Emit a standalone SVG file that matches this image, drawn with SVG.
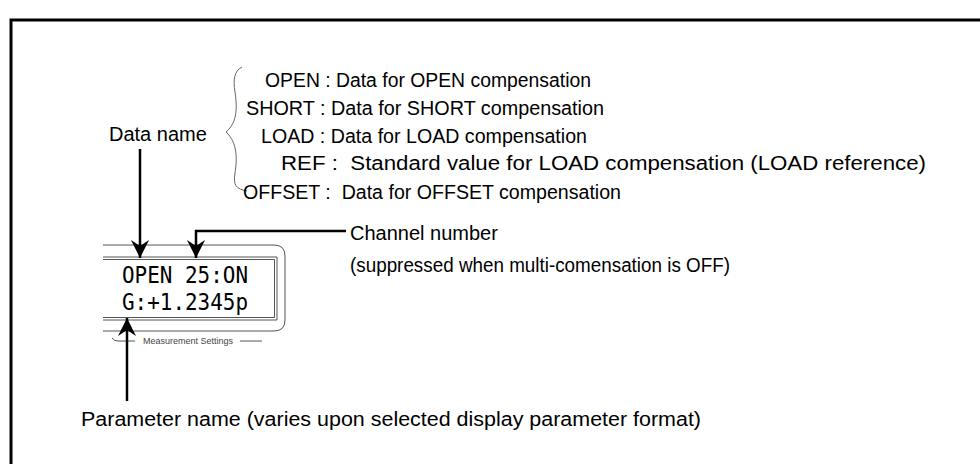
<svg xmlns="http://www.w3.org/2000/svg" width="980" height="464" viewBox="0 0 980 464">
<style>
.t{font-family:"Liberation Sans",Arial,sans-serif;font-size:20px;fill:#000}
.lcd{font-family:"DejaVu Sans Mono","Liberation Mono",monospace;font-size:23px;fill:#000}
.box{fill:none;stroke:#555;stroke-width:1}
.conn{fill:none;stroke:#000;stroke-width:2.5}
.small{font-family:"Liberation Sans",Arial,sans-serif;font-size:9px;fill:#444}
</style>
<defs>
<marker id="ah" viewBox="-19 -10 20 20" refX="0" refY="0" markerWidth="20" markerHeight="20" markerUnits="userSpaceOnUse" orient="auto">
<path d="M0,0 L-18,-9 L-12,0 L-18,9 Z" fill="#000"/>
</marker>
</defs>
<rect width="980" height="464" fill="#fff"/>
<g id="frame">
<path d="M11,464 V20 H980" fill="none" stroke="#000" stroke-width="3"/>
</g>
<g id="display">
<path class="box" d="M103,245 H274 Q285,245 285,256 V320 Q285,331 274,331 H103"/>
<path class="box" d="M103,257 H277 V320 H103"/>
<path class="box" d="M103,259.5 H274.5 V317.5 H103"/>
<text class="lcd" x="122" y="283" textLength="126" lengthAdjust="spacingAndGlyphs">OPEN 25:ON</text>
<text class="lcd" x="122" y="310" textLength="126" lengthAdjust="spacingAndGlyphs">G:+1.2345p</text>
<path d="M112,338 Q114,341 118,341 H135" fill="none" stroke="#555" stroke-width="1"/>
<text class="small" x="143" y="344">Measurement Settings</text>
<path d="M240,341 H262" fill="none" stroke="#555" stroke-width="1"/>
</g>
<g id="data-name">
<text class="t" x="109" y="141">Data name</text>
<path d="M242,67 C234,71 233,80 235,92 C237,106 238,122 226,132 C238,143 237,160 235,173 C233,185 236,189 247,191" fill="none" stroke="#666" stroke-width="1"/>
</g>
<g id="legend">
<text class="t" x="265" y="87" textLength="326" lengthAdjust="spacingAndGlyphs">OPEN : Data for OPEN compensation</text>
<text class="t" x="246" y="115" textLength="358" lengthAdjust="spacingAndGlyphs">SHORT : Data for SHORT compensation</text>
<text class="t" x="261" y="143" textLength="326" lengthAdjust="spacingAndGlyphs">LOAD : Data for LOAD compensation</text>
<text class="t" x="281" y="170" xml:space="preserve" textLength="645" lengthAdjust="spacingAndGlyphs">REF :  Standard value for LOAD compensation (LOAD reference)</text>
<text class="t" x="243" y="199" xml:space="preserve" textLength="378" lengthAdjust="spacingAndGlyphs">OFFSET :  Data for OFFSET compensation</text>
</g>
<g id="channel">
<text class="t" x="350" y="240">Channel number</text>
<text class="t" x="350" y="272" textLength="380" lengthAdjust="spacingAndGlyphs">(suppressed when multi-comensation is OFF)</text>
</g>
<g id="parameter">
<text class="t" x="81" y="426" textLength="620" lengthAdjust="spacingAndGlyphs">Parameter name (varies upon selected display parameter format)</text>
</g>
<g id="connectors">
<path class="conn" d="M140,149 V258" marker-end="url(#ah)"/>
<path class="conn" d="M346,231 H196 V258" marker-end="url(#ah)"/>
<path class="conn" d="M127,401 V318" marker-end="url(#ah)"/>
</g>
</svg>
